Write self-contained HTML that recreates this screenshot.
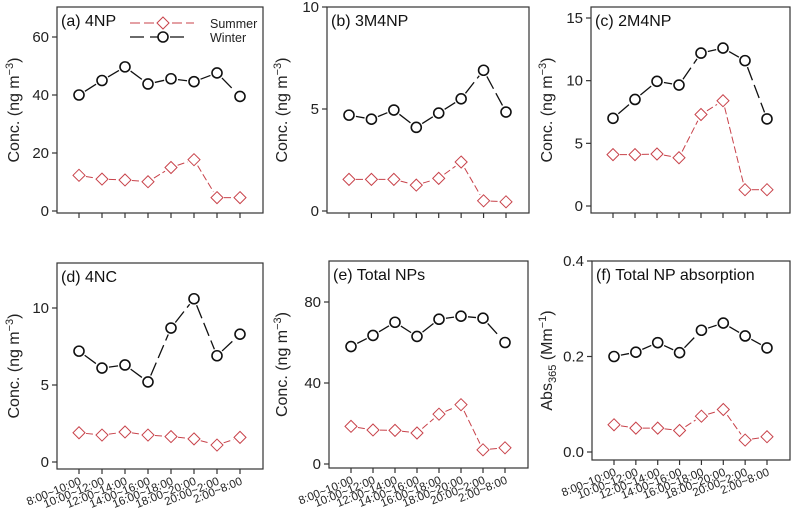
<!DOCTYPE html>
<html><head><meta charset="utf-8"><style>
html,body{margin:0;padding:0;background:#fff;}
svg{display:block;font-family:"Liberation Sans",Arial,sans-serif;}
</style></head><body>
<svg id="c" width="811" height="509" viewBox="0 0 811 509" xmlns="http://www.w3.org/2000/svg"></svg>
<script>
const categories=["8:00~10:00","10:00~12:00","12:00~14:00","14:00~16:00","16:00~18:00","18:00~20:00","20:00~2:00","2:00~8:00"];
const summerA=[12.3,11,10.7,10.1,15,17.7,4.6,4.6];
const winterA=[40,45,49.7,43.8,45.6,44.6,47.6,39.5];
const summerB=[1.55,1.55,1.55,1.27,1.6,2.4,0.5,0.45];
const winterB=[4.7,4.5,4.95,4.1,4.8,5.5,6.9,4.85];
const summerC=[4.1,4.1,4.15,3.85,7.3,8.4,1.3,1.3];
const winterC=[7,8.5,9.95,9.65,12.2,12.6,11.6,6.95];
const summerD=[1.9,1.75,1.95,1.75,1.65,1.5,1.1,1.6];
const winterD=[7.2,6.1,6.3,5.2,8.7,10.6,6.9,8.3];
const summerE=[18.6,16.8,16.6,15.3,24.6,29.3,7,8];
const winterE=[58,63.5,70,63,71.5,73,72,60];
const summerF=[0.057,0.05,0.05,0.045,0.075,0.089,0.025,0.032];
const winterF=[0.2,0.209,0.229,0.208,0.255,0.27,0.243,0.218];
const ticksA=[0,20,40,60], ticksB=[0,5,10], ticksC=[0,5,10,15], ticksD=[0,5,10], ticksE=[0,40,80], ticksF=[0,0.2,0.4];
const NS="http://www.w3.org/2000/svg";
const svg=document.getElementById('c');
function mk(tag,attrs,parent){const e=document.createElementNS(NS,tag);for(const k in attrs)e.setAttribute(k,attrs[k]);(parent||svg).appendChild(e);return e;}
const panels=[
 {id:'a',title:'(a) 4NP',L:57,R:263,T:7,B:213,y0:211,ymin:0,ymax:60,yTop:37,ticks:ticksA,s:summerA,w:winterA,fmt:v=>v,lx:19,legend:true,xl:false},
 {id:'b',title:'(b) 3M4NP',L:327,R:529,T:7,B:213,y0:211,ymin:0,ymax:10,yTop:7,ticks:ticksB,s:summerB,w:winterB,fmt:v=>v,lx:287,xl:false},
 {id:'c',title:'(c) 2M4NP',L:591,R:790,T:7,B:213,y0:206,ymin:0,ymax:15,yTop:18,ticks:ticksC,s:summerC,w:winterC,fmt:v=>v,lx:552,xl:false},
 {id:'d',title:'(d) 4NC',L:57,R:263,T:263,B:469,y0:462,ymin:0,ymax:10,yTop:308,ticks:ticksD,s:summerD,w:winterD,fmt:v=>v,lx:19,xl:true},
 {id:'e',title:'(e) Total NPs',L:329,R:528,T:261,B:468,y0:464,ymin:0,ymax:80,yTop:302,ticks:ticksE,s:summerE,w:winterE,fmt:v=>v,lx:287,xl:true},
 {id:'f',title:'(f) Total NP absorption',L:592,R:790,T:261,B:460,y0:452,ymin:0,ymax:0.4,yTop:261,ticks:ticksF,s:summerF,w:winterF,fmt:v=>v.toFixed(1),lx:552,xl:true,abs:true}
];
function seg(g,x1,y1,x2,y2,r,attrs){const dx=x2-x1,dy=y2-y1,d=Math.hypot(dx,dy);if(d<=2*r+1)return;const ux=dx/d,uy=dy/d;
 const ln=mk('line',Object.assign({x1:x1+ux*(r+2),y1:y1+uy*(r+2),x2:x2-ux*(r+2),y2:y2-uy*(r+2)},attrs),g);return ln;}
panels.forEach(p=>{
 const g=mk('g',{});
 
 
 const ys=v=>p.y0-(v-p.ymin)/(p.ymax-p.ymin)*(p.y0-p.yTop);
 const xs=i=>p.L+22+i*(p.R-p.L-45)/7;
 const fr=mk('rect',{x:p.L,y:p.T,width:p.R-p.L,height:p.B-p.T,fill:'none',stroke:'#333','stroke-width':1.2},g);
 
 
 p.ticks.forEach(t=>{const y=ys(t);
  mk('line',{x1:p.L-5,y1:y,x2:p.L,y2:y,stroke:'#333','stroke-width':1.2},g);
  const tx=mk('text',{x:p.L-8,y:y+5,'text-anchor':'end','font-size':15,fill:'#222'},g);tx.textContent=p.fmt(t);
  
  
 });
 categories.forEach((c,i)=>{const x=xs(i);
  mk('line',{x1:x,y1:p.B,x2:x,y2:p.B+5,stroke:'#333','stroke-width':1.2},g);
  if(p.xl){const t=mk('text',{x:x+3,y:p.B+15,'text-anchor':'end','font-size':11.5,fill:'#222',transform:`rotate(-22 ${x+3} ${p.B+15})`},g);t.textContent=c;
   
   }
 });
 const tt=mk('text',{x:p.L+4,y:p.T+19,'font-size':16,fill:'#111'},g);tt.textContent=p.title;
 
 
 const cy=(p.T+p.B)/2;
 const yl=mk('text',{x:p.lx,y:cy,'text-anchor':'middle','font-size':16,fill:'#222',transform:`rotate(-90 ${p.lx} ${cy})`},g);
 if(p.abs){yl.innerHTML='Abs<tspan font-size="11" dy="4">365</tspan><tspan dy="-4"> (Mm</tspan><tspan font-size="11" dy="-6">−1</tspan><tspan dy="6">)</tspan>';}
 else{yl.innerHTML='Conc. (ng m<tspan font-size="11" dy="-6">−3</tspan><tspan dy="6">)</tspan>';}
 
 
 for(let i=0;i<7;i++){const l=seg(g,xs(i),ys(p.s[i]),xs(i+1),ys(p.s[i+1]),5,{stroke:'#c8424a','stroke-width':1,'stroke-dasharray':'7,3'});
  if(l){}}
 p.s.forEach((v,i)=>{const x=xs(i),y=ys(v),r=6;
  const d=mk('polygon',{points:`${x},${y-r} ${x+r},${y} ${x},${y+r} ${x-r},${y}`,fill:'#fff',stroke:'#c8424a','stroke-width':1},g);
  
  });
 for(let i=0;i<7;i++){const l=seg(g,xs(i),ys(p.w[i]),xs(i+1),ys(p.w[i+1]),5,{stroke:'#111','stroke-width':1.3,'stroke-dasharray':'14,5'});
  if(l){}}
 p.w.forEach((v,i)=>{const c=mk('circle',{cx:xs(i),cy:ys(v),r:5,fill:'#fff',stroke:'#111','stroke-width':1.6},g);
  
  });
 if(p.legend){
  const lg=mk('g',{},g);
  
  
  mk('line',{x1:130,y1:23,x2:194,y2:23,stroke:'#c8424a','stroke-width':1,'stroke-dasharray':'10,4'},lg);
  mk('polygon',{points:'163,17 169,23 163,29 157,23',fill:'#fff',stroke:'#c8424a','stroke-width':1},lg);
  const t1=mk('text',{x:210,y:28,'font-size':12.5,fill:'#222'},lg);t1.textContent='Summer';
  
  mk('line',{x1:130,y1:37,x2:190,y2:37,stroke:'#111','stroke-width':1.3,'stroke-dasharray':'14,6'},lg);
  mk('circle',{cx:163,cy:37,r:5,fill:'#fff',stroke:'#111','stroke-width':1.6},lg);
  const t2=mk('text',{x:210,y:42,'font-size':12.5,fill:'#222'},lg);t2.textContent='Winter';
  
 }
});
</script>
</body></html>
